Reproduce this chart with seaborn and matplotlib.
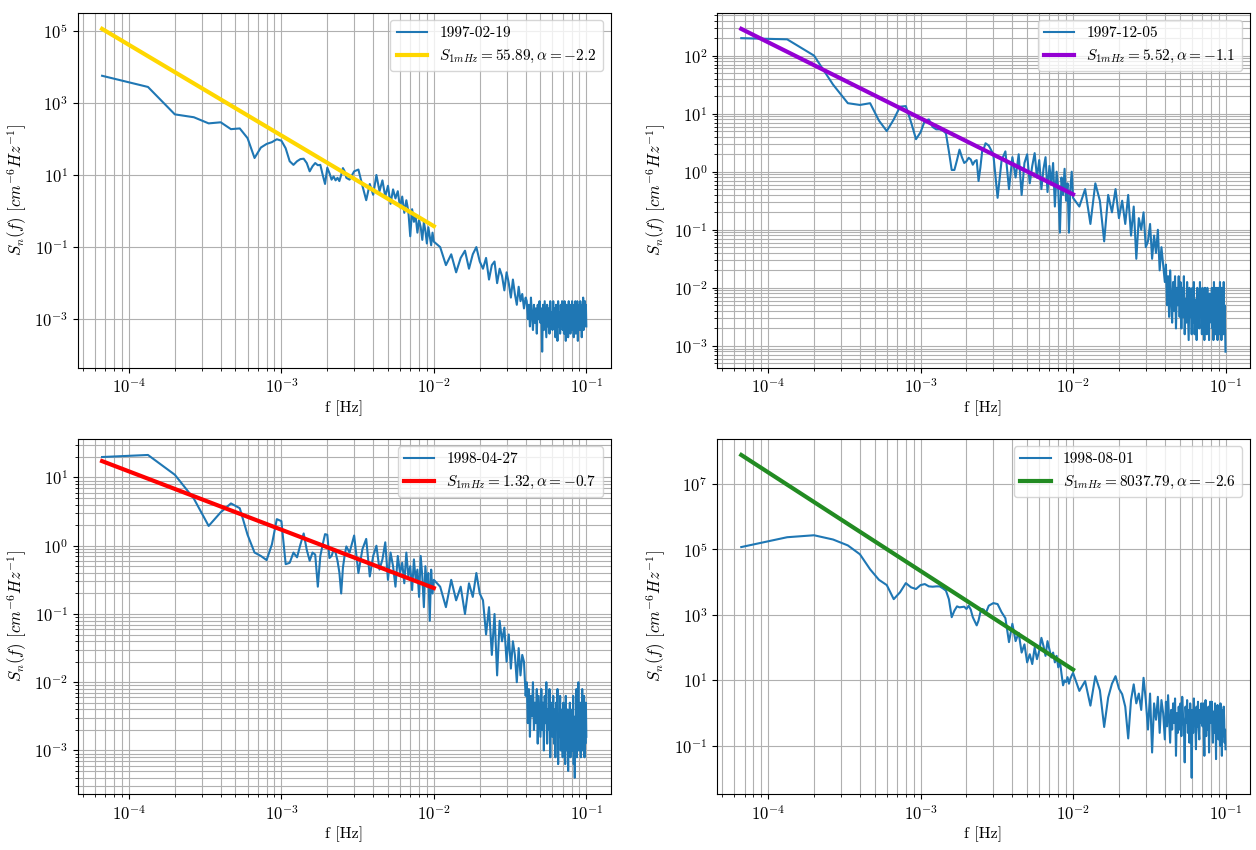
"""
Power spectra S_n(f) for four days, each with its power-law fit line.
Saves out.png (2 x 2 panels, log-log axes).
"""
import matplotlib
matplotlib.use("Agg")
import matplotlib.pyplot as plt
import numpy as np
import pandas as pd
import seaborn as sns

DF = 1.0 / 15000.0
BIN_IDX = (list(range(1, 41)) + list(range(42, 151, 3))
           + list(range(165, 601, 15)) + list(range(610, 1501, 10)))

DATES = ["1997-02-19", "1997-12-05", "1998-04-27", "1998-08-01"]
S_1MHZ = ["55.89", "5.52", "1.32", "8037.79"]
ALPHA = ["-2.2", "-1.1", "-0.7", "-2.6"]
FIT_COLORS = ["gold", "darkviolet", "red", "forestgreen"]

# fit lines: end points (f in Hz, log10 S)
FIT_F = [6.667e-5, 1e-2]
FIT_LOG_S = [[5.05, -0.42], [2.46, -0.39], [1.24, -0.62], [7.88, 1.33]]

# log10 S_n(f) per bin of BIN_IDX
LOG_S_970219 = [
    3.75, 3.44, 2.68, 2.60, 2.43, 2.46, 2.27, 2.29, 2.02, 1.47,
    1.76, 1.86, 1.91, 1.99, 1.95, 1.74, 1.38, 1.28, 1.38, 1.44,
    1.45, 1.33, 1.10, 1.24, 1.33, 1.27, 1.28, 1.00, 0.75, 1.20,
    1.05, 0.87, 0.96, 0.85, 0.92, 0.83, 1.00, 1.19, 1.10, 0.92,
    # 2.8e-3 .. 1e-2
    0.87, 1.10, 1.15, 0.70, 0.30, 0.75, 0.45, 1.00, 0.55, 0.85,
    0.40, 0.70, 0.20, 0.60, 0.35, 0.55, 0.10, 0.40, -0.05, 0.30,
    0.00, -0.70, 0.05, -0.30, -0.15, -0.60, -0.25, -0.45, -0.80, -0.30,
    -0.55, -0.90, -0.45, -0.70, -0.95, -0.60, -0.85,
    # 0.011 .. 0.040
    -1.0, -1.5, -1.2, -1.7, -1.3, -1.1, -1.6, -1.2, -1.0, -1.4,
    -1.6, -1.3, -1.9, -1.5, -1.4, -2.0, -1.6, -1.8, -2.2, -1.7,
    -2.0, -2.4, -1.9, -2.3, -2.6, -2.1, -2.5, -2.3, -2.7, -2.4,
    # 0.0407 .. 0.100
    -2.5, -3.0, -2.6, -3.2, -2.4, -2.9, -3.3, -2.6, -3.1, -2.7, -3.4, -2.6, -3.0, -2.5, -3.1,
    -2.7, -3.9, -2.6, -3.3, -2.5, -3.0, -3.5, -2.6, -3.2, -2.7, -3.4, -2.5, -3.1, -2.8, -3.3,
    -2.5, -3.2, -2.7, -3.5, -2.6, -3.0, -3.6, -2.5, -3.2, -2.8, -3.4, -2.6, -3.1, -2.5, -3.3,
    -2.6, -3.4, -2.5, -3.1, -3.6, -2.6, -3.2, -2.7, -3.5, -2.5, -3.0, -2.8, -3.4, -2.6, -3.2,
    -2.5, -3.3, -2.7, -3.5, -2.6, -3.1, -2.5, -3.4, -2.8, -3.2, -2.5, -3.6, -2.7, -3.0, -2.6,
    -3.3, -2.5, -3.1, -2.7, -3.5, -2.6, -3.0, -2.4, -3.3, -2.7, -3.2, -2.5, -3.0, -2.6, -3.2,
]

LOG_S_971205 = [
    2.30, 2.28, 2.00, 1.50, 1.18, 1.15, 1.18, 0.88, 0.70, 0.90,
    1.12, 1.13, 0.85, 0.56, 0.68, 0.88, 0.90, 0.77, 0.73, 0.73,
    0.71, 0.66, 0.35, 0.03, 0.03, 0.20, 0.38, 0.25, 0.15, 0.18,
    0.24, 0.21, 0.12, 0.18, 0.20, -0.16, 0.07, 0.35, 0.40, 0.49,
    0.45, 0.30, -0.45, 0.20, 0.35, -0.30, 0.25, -0.10, 0.30, -0.40,
    0.15, 0.30, -0.20, 0.10, 0.32, -0.10, 0.20, -0.30, 0.05, 0.25,
    -0.35, 0.10, -0.20, 0.15, -0.60, 0.00, -0.30, -1.05, -0.10, -0.40,
    0.05, -0.50, -0.20, -1.05, -0.30, 0.00, -0.45,
    -0.6, -0.3, -0.9, -0.2, -0.5, -1.2, -0.4, -0.7, -0.3, -0.8,
    -0.5, -0.9, -0.4, -1.1, -0.6, -1.5, -0.8, -1.0, -0.7, -1.3,
    -1.2, -0.9, -1.5, -1.1, -1.4, -1.0, -1.7, -1.3, -1.6, -1.9,
    -1.6, -2.3, -1.8, -2.5, -1.7, -2.2, -2.6, -1.9, -2.4, -1.8, -2.7, -2.0, -2.3, -1.8, -2.5,
    -1.9, -2.7, -2.0, -2.5, -1.8, -2.8, -2.2, -2.6, -1.9, -2.4, -2.9, -2.0, -2.5, -2.2, -2.8,
    -2.0, -2.6, -1.9, -2.8, -2.2, -2.5, -2.9, -2.0, -2.6, -2.3, -2.7, -1.9, -2.5, -2.1, -2.8,
    -2.0, -2.7, -2.2, -2.9, -2.0, -2.5, -2.3, -2.8, -2.0, -2.6, -2.2, -2.9, -2.1, -2.5, -2.3,
    -2.6, -2.0, -2.7, -2.2, -2.9, -1.9, -2.5, -2.2, -2.8, -2.0, -2.6, -2.3, -2.9, -2.0, -2.5,
    -2.2, -2.8, -1.9, -2.6, -2.1, -2.9, -2.0, -2.5, -2.2, -2.8, -1.9, -2.6, -2.3, -2.7, -3.1,
]

LOG_S_980427 = [
    1.30, 1.33, 1.04, 0.69, 0.29, 0.49, 0.62, 0.55, 0.16, -0.10,
    -0.15, -0.21, 0.02, 0.39, 0.36, -0.27, -0.25, -0.10, -0.17, 0.02,
    0.18, -0.06, -0.22, -0.10, -0.13, -0.60, -0.15, 0.02, 0.17, 0.16,
    -0.18, -0.15, -0.06, -0.10, -0.22, -0.39, -0.70, -0.32, -0.14, -0.01,
    -0.10, 0.15, -0.40, -0.05, 0.10, -0.45, -0.15, 0.00, -0.35, -0.20,
    0.05, -0.50, -0.10, -0.30, -0.60, -0.15, -0.40, -0.25, -0.55, -0.10,
    -0.45, -0.30, -0.65, -0.20, -0.50, -0.35, -0.75, -0.15, -0.45, -0.90,
    -0.30, -0.60, -0.40, -1.10, -0.35, -0.70, -0.50,
    -0.6, -0.9, -0.5, -0.8, -0.6, -1.0, -0.55, -0.75, -0.4, -0.7,
    -0.8, -1.3, -0.9, -1.6, -1.0, -1.9, -1.1, -1.4, -1.2, -1.7,
    -1.3, -1.8, -1.4, -1.6, -2.0, -1.5, -1.9, -1.6, -1.7, -2.2,
    -2.0, -2.6, -2.1, -2.8, -2.2, -2.5, -2.0, -2.7, -2.3, -2.6, -2.1, -2.9, -2.2, -2.5, -2.8,
    -2.1, -2.7, -2.3, -3.0, -2.2, -2.6, -2.0, -2.9, -2.4, -2.7, -2.1, -3.1, -2.3, -2.6, -2.8,
    -2.2, -2.9, -2.4, -3.1, -2.3, -2.7, -2.1, -3.2, -2.5, -2.8, -2.2, -3.0, -2.6, -2.4, -3.1,
    -2.3, -2.9, -2.5, -3.2, -2.2, -2.8, -3.0, -2.4, -3.3, -2.5, -2.9, -2.3, -3.1, -2.6, -2.8,
    -2.4, -3.0, -2.2, -3.2, -2.6, -3.4, -2.5, -2.9, -2.1, -3.1, -2.4, -2.8, -2.0, -3.0, -2.5,
    -2.9, -2.3, -3.1, -2.5, -2.8, -2.1, -3.0, -2.4, -2.7, -2.2, -3.1, -2.5, -2.9, -2.3, -2.8,
]

LOG_S_980801 = [
    5.07, 5.37, 5.43, 5.30, 5.12, 4.85, 4.39, 4.07, 3.91, 3.48,
    3.69, 3.97, 3.84, 3.79, 3.91, 3.94, 3.87, 3.86, 3.87, 3.87,
    3.81, 3.74, 3.48, 2.93, 3.13, 3.26, 3.23, 3.24, 3.25, 3.18,
    3.28, 3.16, 2.93, 2.80, 2.68, 2.83, 3.08, 3.18, 3.16, 3.03,
    3.28, 3.36, 3.33, 3.08, 2.90, 2.17, 2.73, 2.20, 2.45, 1.85,
    2.10, 1.55, 1.80, 1.50, 2.00, 1.65, 1.90, 2.30, 2.05, 1.75,
    2.20, 1.95, 1.70, 1.85, 1.55, 1.75, 1.40, 1.60, 1.20, 0.85,
    1.00, 0.95, 1.10, 0.90, 1.05, 1.15, 1.23,
    0.68, 0.98, 0.23, 1.13, 0.70, -0.42, 0.48, 0.90, 1.13, 0.75,
    0.58, 0.20, -0.77, 0.40, 0.88, 0.30, 0.60, 0.10, 1.08, 0.40,
    -0.50, 0.60, -1.20, 0.30, -0.20, 0.50, -0.60, 0.40, 0.00, -0.80,
    0.35, -0.40, 0.55, -0.20, -0.90, 0.10, -0.50, 0.30, -0.30, 0.45, -1.30, 0.00, -0.60, 0.20, -0.50,
    0.30, -0.70, 0.50, -0.10, -0.40, -1.50, 0.20, -0.30, 0.40, -0.60, 0.10, -0.90, 0.30, -0.40, -1.97,
    0.10, -0.60, 0.45, -0.20, -0.30, -1.10, 0.20, -0.40, 0.35, -0.50, -0.80, 0.10, -0.30, 0.30, 0.00,
    -0.40, 0.30, -0.60, -1.30, -0.10, 0.40, -0.70, 0.15, -0.30, -0.50, 0.20, -1.20, -0.20, 0.35, 0.20,
    -0.30, 0.35, -0.50, -0.90, 0.05, -0.40, -0.60, 0.30, -0.20, -1.40, 0.10, -0.20, 0.25, -0.60, -0.80,
    0.00, -0.50, -1.00, 0.30, -0.20, -0.50, -1.30, 0.10, -0.40, -0.70, 0.20, -0.20, -0.90, -0.50, -1.10,
]

ALL_LOG_S = [LOG_S_970219, LOG_S_971205, LOG_S_980427, LOG_S_980801]


def draw_panel(ax, log_s, date, s1, alpha, fit_log, color):
    """One spectrum + its power-law fit on log-log axes."""
    freq = DF * np.array(BIN_IDX)
    spec = pd.DataFrame({"f": freq, "S": 10.0 ** np.array(log_s)})
    fit = pd.DataFrame({"f": FIT_F, "S": 10.0 ** np.array(fit_log)})

    ax.set_xscale("log")
    ax.set_yscale("log")
    sns.lineplot(data=spec, x="f", y="S", ax=ax, color="#1f77b4", linewidth=1.5,
                 label=date, estimator=None, sort=False)
    sns.lineplot(data=fit, x="f", y="S", ax=ax, color=color, linewidth=3,
                 label=rf"$S_{{1mHz}} = {s1}, \alpha = {alpha}$", estimator=None, sort=False)

    ax.grid(True, which="both", color="#b0b0b0", linewidth=0.8)
    ax.set_axisbelow(True)
    ax.set_xlabel("f [Hz]", fontsize=11.5, labelpad=3)
    ax.set_ylabel(r"$S_n(f)$ $[cm^{-6}Hz^{-1}]$", fontsize=12)
    ax.tick_params(labelsize=12)
    ax.legend(loc="upper right", fontsize=11)


def main():
    plt.rcParams.update({
        "font.family": "serif",
        "font.serif": ["cmr10"],
        "mathtext.fontset": "cm",
        "axes.formatter.use_mathtext": True,
        "font.size": 11,
    })

    for name, vals in zip(DATES, ALL_LOG_S):
        assert len(vals) == len(BIN_IDX), (name, len(vals), len(BIN_IDX))

    fig, axes = plt.subplots(2, 2, figsize=(12.56, 8.5))
    fig.subplots_adjust(left=0.062, right=0.995, top=0.985, bottom=0.066,
                        wspace=0.2, hspace=0.2)

    for ax, log_s, date, s1, alpha, fit_log, color in zip(
            axes.flat, ALL_LOG_S, DATES, S_1MHZ, ALPHA, FIT_LOG_S, FIT_COLORS):
        draw_panel(ax, log_s, date, s1, alpha, fit_log, color)

    fig.savefig("out.png", dpi=100)
    plt.close(fig)


if __name__ == "__main__":
    main()
